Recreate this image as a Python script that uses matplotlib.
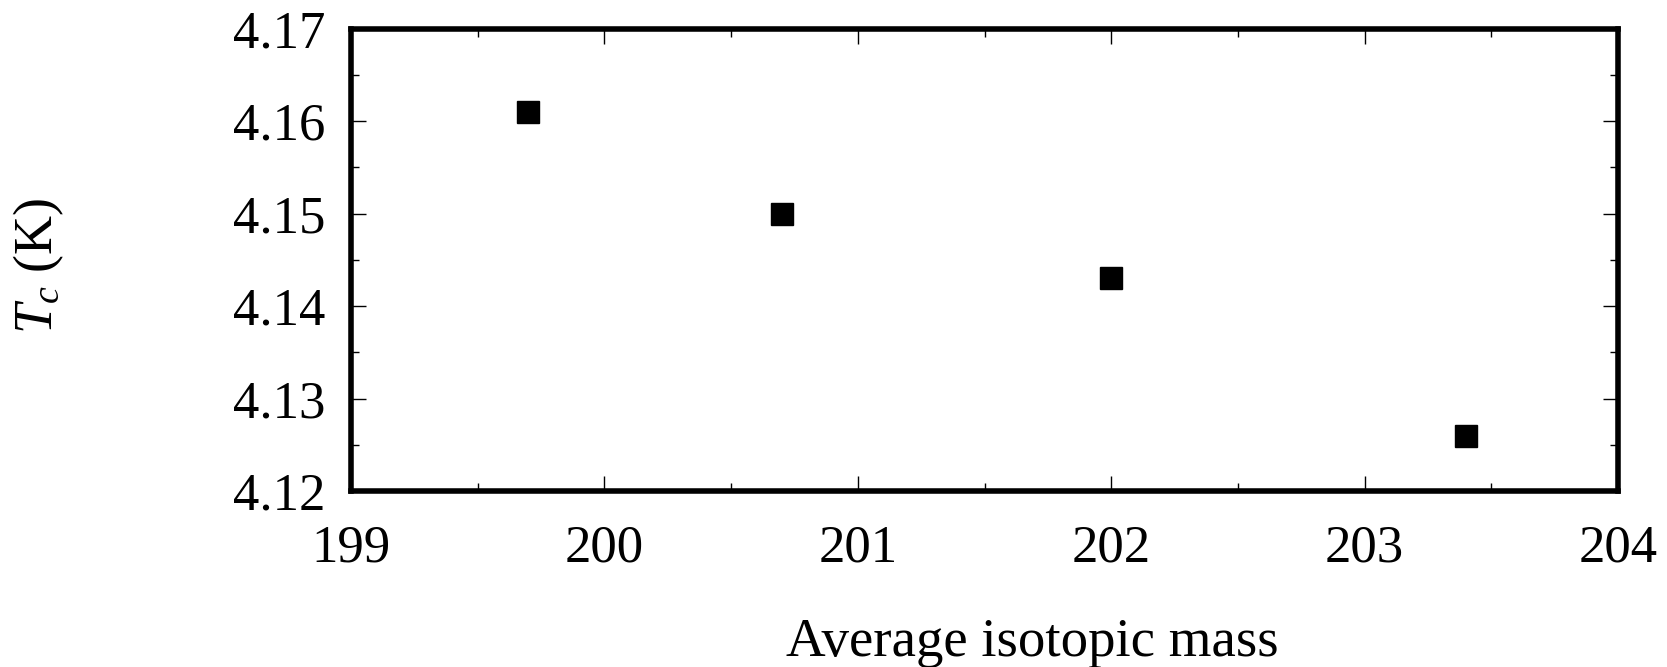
import numpy as np
import matplotlib
matplotlib.use('Agg')
import matplotlib.pyplot as plt
from matplotlib.ticker import MultipleLocator

# data
mass = [199.7, 200.7, 202.0, 203.4]
tc = [4.161, 4.150, 4.143, 4.126]

plt.rcParams['font.family'] = 'Liberation Serif'
plt.rcParams['mathtext.fontset'] = 'custom'
plt.rcParams['mathtext.rm'] = 'Liberation Serif'
plt.rcParams['mathtext.it'] = 'Liberation Serif:italic'

fig = plt.figure(figsize=(16.67, 6.67), dpi=100)
ax = fig.add_axes([0.2106, 0.2639, 0.76, 0.6931])

ax.plot(mass, tc, 's', color='black', markersize=16.5, linestyle='none')

ax.set_xlim(199, 204)
ax.set_ylim(4.12, 4.17)
ax.xaxis.set_major_locator(MultipleLocator(1))
ax.xaxis.set_minor_locator(MultipleLocator(0.5))
ax.yaxis.set_major_locator(MultipleLocator(0.01))
ax.yaxis.set_minor_locator(MultipleLocator(0.005))
ax.yaxis.set_major_formatter(plt.FormatStrFormatter('%.2f'))

for s in ax.spines.values():
    s.set_linewidth(4.0)

ax.tick_params(which='both', direction='in', top=True, right=True, width=1.0)
ax.tick_params(which='major', length=11, labelsize=38, pad=18.5)
ax.tick_params(which='minor', length=6)
ax.tick_params(axis='x', which='major', pad=24)

ax.set_xlabel('Average isotopic mass', fontsize=39.5)
ax.set_ylabel(r'$T_c$ (K)', fontsize=39)
ax.xaxis.set_label_coords(0.538, -0.274)
ax.yaxis.set_label_coords(-0.225, 0.487)

fig.savefig('out.png', dpi=100)
